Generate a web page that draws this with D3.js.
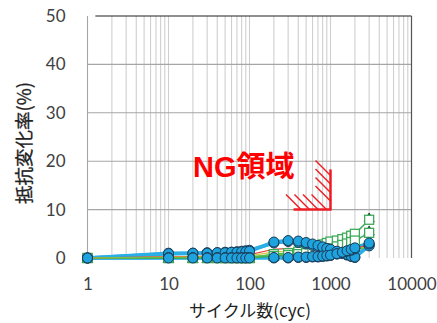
<!DOCTYPE html>
<html><head><meta charset="utf-8">
<script src="https://cdn.jsdelivr.net/npm/d3@7"></script>
<style>html,body{margin:0;padding:0;background:#fff;}svg{display:block;}</style>
</head><body>
<svg id="chart" width="437" height="323"></svg>
<script>
const cycles = [1,10,20,30,40,50,60,70,80,90,100,200,300,400,500,600,700,800,900,1000,1200,1400,1600,1800,2000,3000];
const blueA = [0,1.0,1.0,1.1,1.1,1.2,1.2,1.3,1.4,1.5,1.6,3.1,3.4,3.2,2.9,2.6,2.3,2.1,1.9,1.6,1.2,0.9,0.6,0.3,0.1,2.7];
const blueC = [0,0.9,1.0,1.0,1.1,1.1,1.2,1.2,1.3,1.3,1.4,3.3,3.6,3.5,3.2,2.9,2.6,2.3,2.0,1.8,1.4,1.0,0.7,0.4,0.2,2.5];
const blueB = [0,0.1,0.1,0.1,0.1,0.1,0.1,0.1,0.1,0.1,0.1,0,0,0.1,0.1,0.2,0.2,0.3,0.4,0.5,0.8,1.1,1.4,1.6,1.9,2.9];
const blueD = [0,0,0,0,0,0,0,0,0,0,0,0.1,0.1,0.2,0.2,0.3,0.3,0.4,0.5,0.6,0.9,1.2,1.5,1.8,2.1,3.1];
const greenA = [0,0,0,0,0,0,0,0,0,0,0,0.8,1.0,1.3,1.6,2.0,2.4,2.8,3.1,3.4,3.6,3.9,4.2,4.6,5.0,7.9];
const greenB = [0,0,0,0,0,0,0,0,0,0,0,0.4,0.6,0.8,1.0,1.2,1.4,1.6,1.8,2.0,2.4,2.7,3.0,3.3,3.6,5.2];
const triA = [0,0,0,0,0,0,0,0,0,0,0,0.8,1.0,1.3,1.6,2.0,2.4,2.8,3.1,3.4,3.6,3.9,4.2,4.6,5.0,8.4];
const triB = [0,0,0,0,0,0,0,0,0,0,0,0.4,0.6,0.8,1.0,1.2,1.4,1.6,1.8,2.0,2.4,2.7,3.0,3.3,3.6,5.7];
const redLine = [0,0.3,0.3,0.4,0.4,0.5,0.5,0.5,0.6,0.6,0.7,1.8,2.0,1.9,1.8,1.7,1.7,1.6,1.6,1.6,1.7,1.8,1.9,2.0,2.1,2.6];
const yellowLine = [0,0.2,0.2,0.3,0.3,0.3,0.4,0.4,0.4,0.5,0.5,1.2,1.4,1.4,1.3,1.3,1.3,1.3,1.4,1.4,1.5,1.6,1.7,1.8,1.9,2.3];
const greenLine = [0,0.1,0.1,0.2,0.2,0.2,0.2,0.3,0.3,0.3,0.3,0.7,0.9,1.0,1.0,1.1,1.1,1.2,1.2,1.3,1.4,1.5,1.6,1.7,1.8,2.2];
const yTicks = [0,10,20,30,40,50];
const xTicks = [1,10,100,1000,10000];
const ngCorner = {cycle:1000, value:10};
const ngStart = 350, ngTop = 18.3;
const xTitle = "サイクル数(cyc)";
const yTitle = "抵抗変化率(%)";
const ngLabel = "NG領域";

const svg = d3.select("#chart");
const x = d3.scaleLog().domain([1,10000]).range([87.5,411.5]);
const y = d3.scaleLinear().domain([0,50]).range([258,16]);

// minor vertical gridlines
const minors = [];
for (let d = 1; d < 10000; d *= 10) for (let k = 2; k <= 10; k++) minors.push(d*k);
svg.append("g").selectAll("line").data(minors).join("line")
  .attr("x1", d=>x(d)).attr("x2", d=>x(d)).attr("y1", y(0)).attr("y2", y(50))
  .attr("stroke", "#cfcfcf").attr("stroke-width", 1.1);
// horizontal gridlines
svg.append("g").selectAll("line").data(yTicks.filter(v=>v>0 && v<50)).join("line")
  .attr("x1", x(1)).attr("x2", x(10000)).attr("y1", d=>y(d)).attr("y2", d=>y(d))
  .attr("stroke", "#a6a6a6").attr("stroke-width", 1.1);
// left axis line
svg.append("line").attr("x1", x(1)).attr("x2", x(1)).attr("y1", y(0)).attr("y2", y(50))
  .attr("stroke", "#a6a6a6").attr("stroke-width", 1.1);
// top border and right border
svg.append("line").attr("x1", x(1.25)).attr("x2", x(10000)).attr("y1", y(50)).attr("y2", y(50))
  .attr("stroke", "#222").attr("stroke-width", 1.2);
svg.append("line").attr("x1", x(10000)).attr("x2", x(10000)).attr("y1", y(50)).attr("y2", y(0))
  .attr("stroke", "#555").attr("stroke-width", 1.2);

// axes labels
const yAxis = d3.axisLeft(y).tickValues(yTicks).tickSize(0).tickPadding(22);
const gy = svg.append("g").attr("transform", `translate(${x(1)},0)`).call(yAxis);
gy.select(".domain").remove();
gy.selectAll("text").attr("font-family","Lato, 'Open Sans', sans-serif").attr("font-size", 17).attr("fill","#404040");
const xAxis = d3.axisBottom(x).tickValues(xTicks).tickFormat(d3.format("d")).tickSize(0).tickPadding(20);
const gx = svg.append("g").attr("transform", `translate(0,${y(0)})`).call(xAxis);
gx.select(".domain").remove();
gx.selectAll("text").attr("font-family","Lato, 'Open Sans', sans-serif").attr("font-size", 17).attr("fill","#404040");

svg.append("text").attr("x", 250).attr("y", 317).attr("text-anchor","middle")
  .attr("font-family","'Noto Sans CJK JP', sans-serif").attr("font-size",17).attr("fill","#222").text(xTitle);
svg.append("text").attr("transform","translate(31,143) rotate(-90)").attr("text-anchor","middle")
  .attr("font-family","'Noto Sans CJK JP', sans-serif").attr("font-size",18.5).attr("fill","#222")
  .attr("stroke","#222").attr("stroke-width",0.3).text(yTitle);

// NG region
const cx = x(ngCorner.cycle), cy = y(ngCorner.value);
const ng = svg.append("g").attr("stroke","#ee1c24");
ng.append("line").attr("x1", x(ngStart)).attr("x2", cx+1).attr("y1", cy).attr("y2", cy).attr("stroke-width",2.5);
ng.append("line").attr("x1", cx).attr("x2", cx).attr("y1", y(ngTop)).attr("y2", cy).attr("stroke-width",2.5);
const hatchLen = 15, sp = 8.5;
for (let i = 0; i < 4; i++) {
  const ex = cx - 4 - i*sp;
  ng.append("line").attr("x1", ex-hatchLen).attr("y1", cy-hatchLen).attr("x2", ex).attr("y2", cy).attr("stroke-width",1.4);
}
for (let i = 1; i < 5; i++) {
  const ey = cy - i*sp;
  ng.append("line").attr("x1", cx-hatchLen).attr("y1", ey-hatchLen).attr("x2", cx).attr("y2", ey).attr("stroke-width",1.4);
}
const ngText = svg.append("text").attr("x", 193).attr("y", 177).attr("fill","#ff0000")
  .attr("font-weight","bold").attr("font-size",29);
ngText.append("tspan").attr("font-family","'Liberation Sans', Arial, sans-serif").text(ngLabel.slice(0,2));
ngText.append("tspan").attr("font-family","'Noto Sans CJK JP', sans-serif").text(ngLabel.slice(2));

// data
const line = vals => d3.line().x((d,i)=>x(cycles[i])).y(d=>y(d))(vals);
const blueSeries = [blueA, blueC, blueB, blueD];
const greenSeries = [greenA, greenB];
const triSeries = [triA, triB];
blueSeries.forEach(v => svg.append("path").attr("d", line(v)).attr("fill","none").attr("stroke","#2aaee6").attr("stroke-width",3.5));
greenSeries.forEach(v => svg.append("path").attr("d", line(v)).attr("fill","none").attr("stroke","#3daa5a").attr("stroke-width",1.5));
[[redLine,"#e8413b"],[yellowLine,"#d6c440"],[greenLine,"#5cbf4a"]].forEach(([v,c]) =>
  svg.append("path").attr("d", line(v)).attr("fill","none").attr("stroke",c).attr("stroke-width",1.2));

const tri = d3.symbol().type(d3.symbolTriangle).size(45);
triSeries.forEach(v => svg.append("g").selectAll("path").data(v).join("path")
  .attr("transform",(d,i)=>`translate(${x(cycles[i])},${y(d)+1.5})`).attr("d", tri())
  .attr("fill","#1f4f34").attr("stroke","#143524").attr("stroke-width",0.8));
greenSeries.forEach(v => svg.append("g").selectAll("rect").data(v).join("rect")
  .attr("x",(d,i)=>x(cycles[i])-4.5).attr("y",d=>y(d)-4.5).attr("width",9).attr("height",9)
  .attr("fill","#fff").attr("stroke","#3daa5a").attr("stroke-width",1.3));
blueSeries.forEach(v => svg.append("g").selectAll("circle").data(v).join("circle")
  .attr("cx",(d,i)=>x(cycles[i])).attr("cy",d=>y(d)).attr("r",5)
  .attr("fill","#1ea3df").attr("stroke","#1b3a55").attr("stroke-width",1));
</script>
</body></html>
